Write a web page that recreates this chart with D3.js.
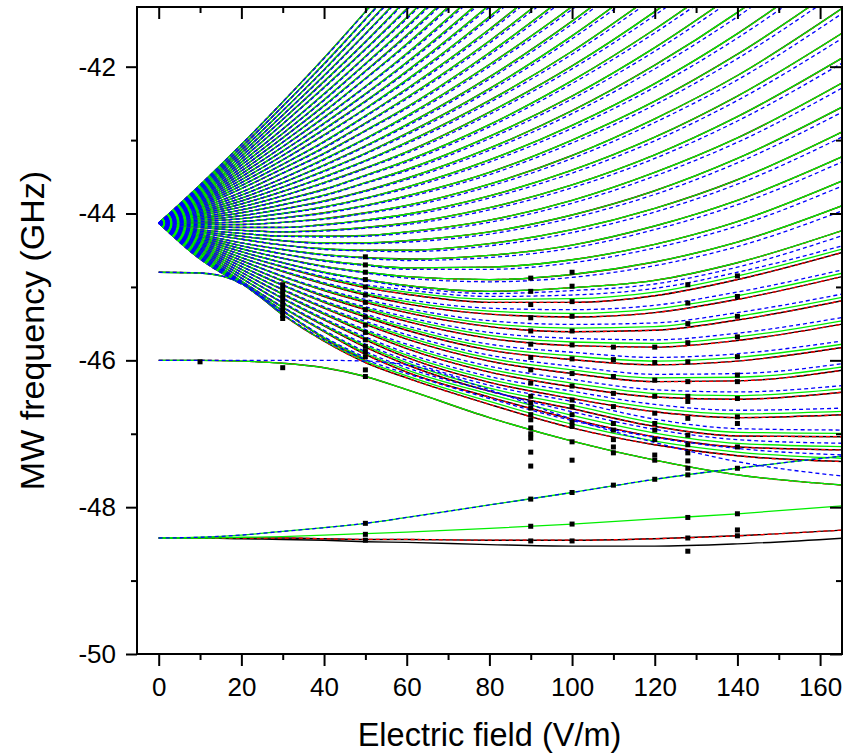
<!DOCTYPE html>
<html><head><meta charset="utf-8">
<script src="https://cdn.jsdelivr.net/npm/d3@7"></script>
<style>
body{margin:0;background:#fff;}
svg{display:block;}
text{font-family:"Liberation Sans", Arial, sans-serif;fill:#000;}
</style></head><body>
<svg id="chart" width="845" height="754"></svg>
<script>
// Field values (V/m) at which every computed level is tabulated
const fieldNodes = [0, 10, 20, 30, 40, 50, 60, 80, 100, 120, 140, 166];

// Upper part of the Stark fan (levels leaving the top are cut short)
const fanUpper = [
  [-44.13, -43.61, -43.06, -42.48, -41.88, -41.25, -40.60],
  [-44.13, -43.63, -43.10, -42.54, -41.96, -41.35, -40.72],
  [-44.13, -43.65, -43.14, -42.60, -42.04, -41.45, -40.84],
  [-44.13, -43.67, -43.18, -42.66, -42.12, -41.55, -40.96],
  [-44.13, -43.69, -43.22, -42.72, -42.20, -41.66, -41.08, -39.86],
  [-44.13, -43.71, -43.26, -42.78, -42.28, -41.76, -41.21, -40.03],
  [-44.13, -43.73, -43.30, -42.85, -42.37, -41.86, -41.33, -40.19],
  [-44.13, -43.75, -43.34, -42.91, -42.45, -41.96, -41.45, -40.35],
  [-44.13, -43.77, -43.38, -42.97, -42.53, -42.06, -41.57, -40.51],
  [-44.13, -43.79, -43.42, -43.03, -42.61, -42.16, -41.69, -40.67],
  [-44.13, -43.81, -43.46, -43.09, -42.69, -42.27, -41.82, -40.84],
  [-44.13, -43.83, -43.50, -43.15, -42.77, -42.37, -41.94, -41.00, -39.96],
  [-44.13, -43.85, -43.54, -43.21, -42.85, -42.47, -42.06, -41.16, -40.16],
  [-44.13, -43.87, -43.58, -43.27, -42.93, -42.57, -42.18, -41.32, -40.37],
  [-44.13, -43.89, -43.62, -43.33, -43.02, -42.67, -42.30, -41.49, -40.57],
  [-44.13, -43.91, -43.66, -43.39, -43.10, -42.77, -42.42, -41.65, -40.77],
  [-44.13, -43.93, -43.71, -43.45, -43.18, -42.87, -42.55, -41.81, -40.97],
  [-44.13, -43.95, -43.75, -43.52, -43.26, -42.98, -42.67, -41.97, -41.18, -40.28],
  [-44.13, -43.97, -43.79, -43.58, -43.34, -43.08, -42.79, -42.14, -41.38, -40.52],
  [-44.13, -43.99, -43.83, -43.64, -43.42, -43.18, -42.91, -42.30, -41.58, -40.76],
  [-44.13, -44.01, -43.87, -43.70, -43.50, -43.28, -43.03, -42.46, -41.79, -41.01],
  [-44.13, -44.03, -43.91, -43.76, -43.58, -43.38, -43.16, -42.62, -41.99, -41.25, -40.41],
  [-44.13, -44.05, -43.95, -43.82, -43.67, -43.48, -43.28, -42.79, -42.19, -41.49, -40.70],
  [-44.13, -44.07, -43.99, -43.88, -43.75, -43.58, -43.40, -42.95, -42.40, -41.74, -40.98],
  [-44.13, -44.09, -44.03, -43.94, -43.83, -43.69, -43.52, -43.11, -42.60, -41.98, -41.26, -40.17],
  [-44.13, -44.11, -44.07, -44.00, -43.91, -43.79, -43.64, -43.27, -42.80, -42.23, -41.55, -40.51],
  [-44.13, -44.13, -44.11, -44.06, -43.99, -43.89, -43.76, -43.44, -43.00, -42.47, -41.83, -40.85],
  [-44.13, -44.15, -44.15, -44.12, -44.07, -43.99, -43.89, -43.60, -43.21, -42.71, -42.12, -41.18],
  [-44.13, -44.17, -44.19, -44.19, -44.15, -44.09, -44.01, -43.76, -43.41, -42.96, -42.40, -41.52],
  [-44.13, -44.19, -44.23, -44.25, -44.23, -44.19, -44.13, -43.92, -43.61, -43.20, -42.68, -41.86],
  [-44.13, -44.22, -44.27, -44.31, -44.31, -44.30, -44.25, -44.09, -43.82, -43.44, -42.97, -42.20],
  [-44.13, -44.24, -44.31, -44.37, -44.40, -44.40, -44.37, -44.25, -44.02, -43.69, -43.25, -42.53],
  [-44.13, -44.26, -44.35, -44.43, -44.48, -44.50, -44.50, -44.41, -44.22, -43.93, -43.54, -42.87],
  [-44.13, -44.28, -44.40, -44.49, -44.56, -44.60, -44.62, -44.57, -44.43, -44.17, -43.82, -43.21],
  [-44.13, -44.30, -44.44, -44.55, -44.64, -44.70, -44.74, -44.73, -44.63, -44.42, -44.11, -43.54],
  [-44.13, -44.32, -44.48, -44.61, -44.72, -44.80, -44.86, -44.90, -44.83, -44.66, -44.39, -43.88],
  [-44.13, -44.34, -44.52, -44.67, -44.80, -44.90, -44.98, -45.06, -45.01, -44.91, -44.67, -44.22]
];

// Lower part of the fan, squeezed against the lower levels
const fanLower = [
  [-44.13, -44.36, -44.56, -44.73, -44.88, -45.01, -45.10, -45.21, -45.21, -45.12, -44.90, -44.52],
  [-44.13, -44.38, -44.60, -44.79, -44.96, -45.11, -45.23, -45.37, -45.41, -45.35, -45.17, -44.85],
  [-44.13, -44.40, -44.64, -44.86, -45.05, -45.21, -45.35, -45.54, -45.61, -45.59, -45.45, -45.18],
  [-44.13, -44.42, -44.68, -44.92, -45.13, -45.31, -45.47, -45.70, -45.80, -45.82, -45.73, -45.50],
  [-44.13, -44.44, -44.72, -44.98, -45.21, -45.41, -45.59, -45.86, -45.99, -46.06, -46.01, -45.82],
  [-44.13, -44.46, -44.76, -45.04, -45.29, -45.51, -45.71, -46.01, -46.18, -46.29, -46.28, -46.13],
  [-44.13, -44.48, -44.80, -45.10, -45.37, -45.62, -45.84, -46.16, -46.36, -46.50, -46.53, -46.43],
  [-44.13, -44.50, -44.84, -45.16, -45.45, -45.72, -45.96, -46.30, -46.52, -46.70, -46.78, -46.74],
  [-44.13, -44.52, -44.88, -45.22, -45.53, -45.82, -46.06, -46.42, -46.66, -46.90, -47.03, -47.04],
  [-44.13, -44.54, -44.92, -45.28, -45.61, -45.92, -46.16, -46.50, -46.80, -47.04, -47.18, -47.22],
  [-44.13, -44.56, -44.94, -45.33, -45.70, -46.00],
  [-44.13, -44.58, -44.95, -45.37],
  [-44.13, -44.60, -44.96],
  [-44.13, -44.62, -44.96]
];

// Isolated levels
const levelP = [-44.80, -44.81, -44.95, -45.38, -45.74, -46.03, -46.24, -46.60, -46.92, -47.15, -47.30, -47.38];
const levelE = [-46.00, -46.00, -46.01, -46.04, -46.10, -46.22, -46.40, -46.78, -47.10, -47.36, -47.56, -47.70];
const levelEBlue = [-46.00, -46.00, -46.00, -46.00, -46.00, -46.01, -46.06, -46.40, -46.80, -47.12, -47.38, -47.58];
const level48a = [-48.42, -48.41, -48.38, -48.33, -48.28, -48.22, -48.14, -47.97, -47.80, -47.62, -47.47, -47.30];
const level48b = [-48.42, -48.42, -48.41, -48.40, -48.38, -48.36, -48.34, -48.29, -48.23, -48.16, -48.09, -47.98];
const level48c = [-48.42, -48.42, -48.42, -48.42, -48.43, -48.44, -48.44, -48.45, -48.45, -48.43, -48.39, -48.31];
const level48d = [-48.42, -48.42, -48.43, -48.44, -48.45, -48.47, -48.48, -48.51, -48.53, -48.53, -48.50, -48.42];

// Offsets (GHz) of the other calculations seen in the picture
const blueShiftUpper = [0, 0, 0, 0, -0.01, -0.01, -0.02, -0.03, -0.04, -0.05, -0.06, -0.07];
const blueShiftLower = [0, 0, 0, 0.01, 0.02, 0.04, 0.06, 0.08, 0.10, 0.10, 0.10, 0.09];
const greenShiftLower = [0, 0, 0, 0.005, 0.01, 0.02, 0.03, 0.04, 0.05, 0.05, 0.05, 0.045];

// Measured resonances (black squares)
const expField = [10, 30, 50, 90, 100, 110, 120, 128, 140];
const expFreq = [
  [-46.02],
  [-44.97, -45.03, -45.09, -45.15, -45.21, -45.27, -45.33, -45.39, -45.43, -46.10],
  [-44.59, -44.70, -44.80, -44.90, -45.00, -45.11, -45.21, -45.31, -45.41, -45.52, -45.62, -45.72, -45.81, -45.88, -45.95, -46.13, -46.22, -48.22, -48.37, -48.45],
  [-44.88, -45.06, -45.24, -45.42, -45.60, -45.78, -45.96, -46.13, -46.31, -46.49, -46.58, -46.65, -46.74, -46.81, -46.92, -47.00, -47.06, -47.25, -47.44, -47.89, -48.26, -48.46],
  [-44.80, -44.99, -45.20, -45.40, -45.60, -45.79, -45.98, -46.18, -46.35, -46.54, -46.63, -46.74, -46.84, -46.90, -47.11, -47.36, -47.80, -48.23, -48.46],
  [-45.82, -45.99, -46.22, -46.45, -46.63, -46.86, -46.95, -47.08, -47.18, -47.26, -47.70],
  [-45.82, -46.03, -46.27, -46.49, -46.72, -46.86, -46.95, -47.08, -47.29, -47.36, -47.62],
  [-44.97, -45.22, -45.50, -45.76, -46.02, -46.29, -46.49, -46.56, -46.79, -47.02, -47.15, -47.26, -47.37, -47.47, -47.56, -48.14, -48.42, -48.60],
  [-44.85, -45.13, -45.40, -45.68, -45.95, -46.20, -46.29, -46.52, -46.77, -46.86, -47.18, -47.47, -48.09, -48.31, -48.39]
];

const xTicksMajor = [0, 20, 40, 60, 80, 100, 120, 140, 160];
const xTicksMinor = [10, 30, 50, 70, 90, 110, 130, 150];
const yTicksMajor = [-50, -48, -46, -44, -42];
const yTicksMinor = [-49, -47, -45, -43];

const L = 137, R = 842, T = 7, B = 654;
const svg = d3.select("#chart");
const x = d3.scaleLinear().domain([-5.25, 165.3]).range([L, R]);
const y = d3.scaleLinear().domain([-50, -41.187]).range([B, T]);

svg.append("defs").append("clipPath").attr("id", "clip")
  .append("rect").attr("x", L).attr("y", T).attr("width", R - L).attr("height", B - T);

const plot = svg.append("g").attr("clip-path", "url(#clip)");
const lineGen = d3.line().x((d, i) => x(fieldNodes[i])).y(d => y(d)).curve(d3.curveMonotoneX);
const shifted = (arr, sh) => arr.map((v, i) => v + sh[i]);

function layer(data, color, width, dash) {
  const g = plot.append("g");
  g.selectAll("path").data(data).join("path")
    .attr("d", lineGen).attr("fill", "none")
    .attr("stroke", color).attr("stroke-width", width)
    .attr("stroke-dasharray", dash || null);
}

const fanAll = fanUpper.concat(fanLower, [levelP, levelE]);
// black solid
layer(fanAll.concat([level48c, level48d]), "#000", 1.4);
// red dashed
layer(fanAll.concat([level48c]), "#ff0000", 1.3, "4,3");
// green solid
layer(fanUpper.concat(fanLower.map(a => shifted(a, greenShiftLower)), [shifted(levelP, greenShiftLower), levelE, level48a, level48b]), "#00ee00", 1.3);
// blue dashed
layer(fanUpper.map(a => shifted(a, blueShiftUpper))
  .concat(fanLower.map(a => shifted(a, blueShiftLower)), [shifted(levelP, blueShiftLower), levelEBlue, level48a]),
  "#0000ff", 1.3, "4,3");

// experimental points
const pts = [];
expField.forEach((f, i) => expFreq[i].forEach(v => pts.push([f, v])));
plot.append("g").selectAll("rect").data(pts).join("rect")
  .attr("x", d => x(d[0]) - 2.5).attr("y", d => y(d[1]) - 2.5)
  .attr("width", 5).attr("height", 5).attr("fill", "#000");

// axes
function styleAxis(g) {
  g.select(".domain").remove();
  g.selectAll("line").attr("stroke", "#000").attr("stroke-width", 2);
  g.selectAll("text").attr("font-size", 26).attr("fill", "#000")
    .attr("font-family", '"Liberation Sans", Arial, sans-serif');
}
svg.append("g").attr("transform", `translate(0,${B})`)
  .call(d3.axisBottom(x).tickValues(xTicksMajor).tickSize(12).tickPadding(12).tickFormat(d => String(d))).call(styleAxis);
svg.append("g").attr("transform", `translate(0,${B})`)
  .call(d3.axisBottom(x).tickValues(xTicksMinor).tickSize(6).tickFormat("")).call(styleAxis);
svg.append("g").attr("transform", `translate(${L},0)`)
  .call(d3.axisLeft(y).tickValues(yTicksMajor).tickSize(11).tickPadding(10).tickFormat(d => String(d))).call(styleAxis);
svg.append("g").attr("transform", `translate(${L},0)`)
  .call(d3.axisLeft(y).tickValues(yTicksMinor).tickSize(6).tickFormat("")).call(styleAxis);
// mirrored inward ticks
svg.append("g").attr("transform", `translate(0,${T})`)
  .call(d3.axisBottom(x).tickValues(xTicksMajor).tickSize(12).tickFormat("")).call(styleAxis);
svg.append("g").attr("transform", `translate(0,${T})`)
  .call(d3.axisBottom(x).tickValues(xTicksMinor).tickSize(6).tickFormat("")).call(styleAxis);
svg.append("g").attr("transform", `translate(${R},0)`)
  .call(d3.axisLeft(y).tickValues(yTicksMajor).tickSize(12).tickFormat("")).call(styleAxis);
svg.append("g").attr("transform", `translate(${R},0)`)
  .call(d3.axisLeft(y).tickValues(yTicksMinor).tickSize(6).tickFormat("")).call(styleAxis);

svg.append("rect").attr("x", L).attr("y", T).attr("width", R - L).attr("height", B - T)
  .attr("fill", "none").attr("stroke", "#000").attr("stroke-width", 2);

svg.append("text").attr("x", (L + R) / 2).attr("y", 746).attr("text-anchor", "middle")
  .attr("font-size", 32.5).text("Electric field (V/m)");
svg.append("text").attr("transform", `translate(44,${(T + B) / 2}) rotate(-90)`)
  .attr("text-anchor", "middle").attr("font-size", 34).text("MW frequency (GHz)");
</script>
</body></html>
